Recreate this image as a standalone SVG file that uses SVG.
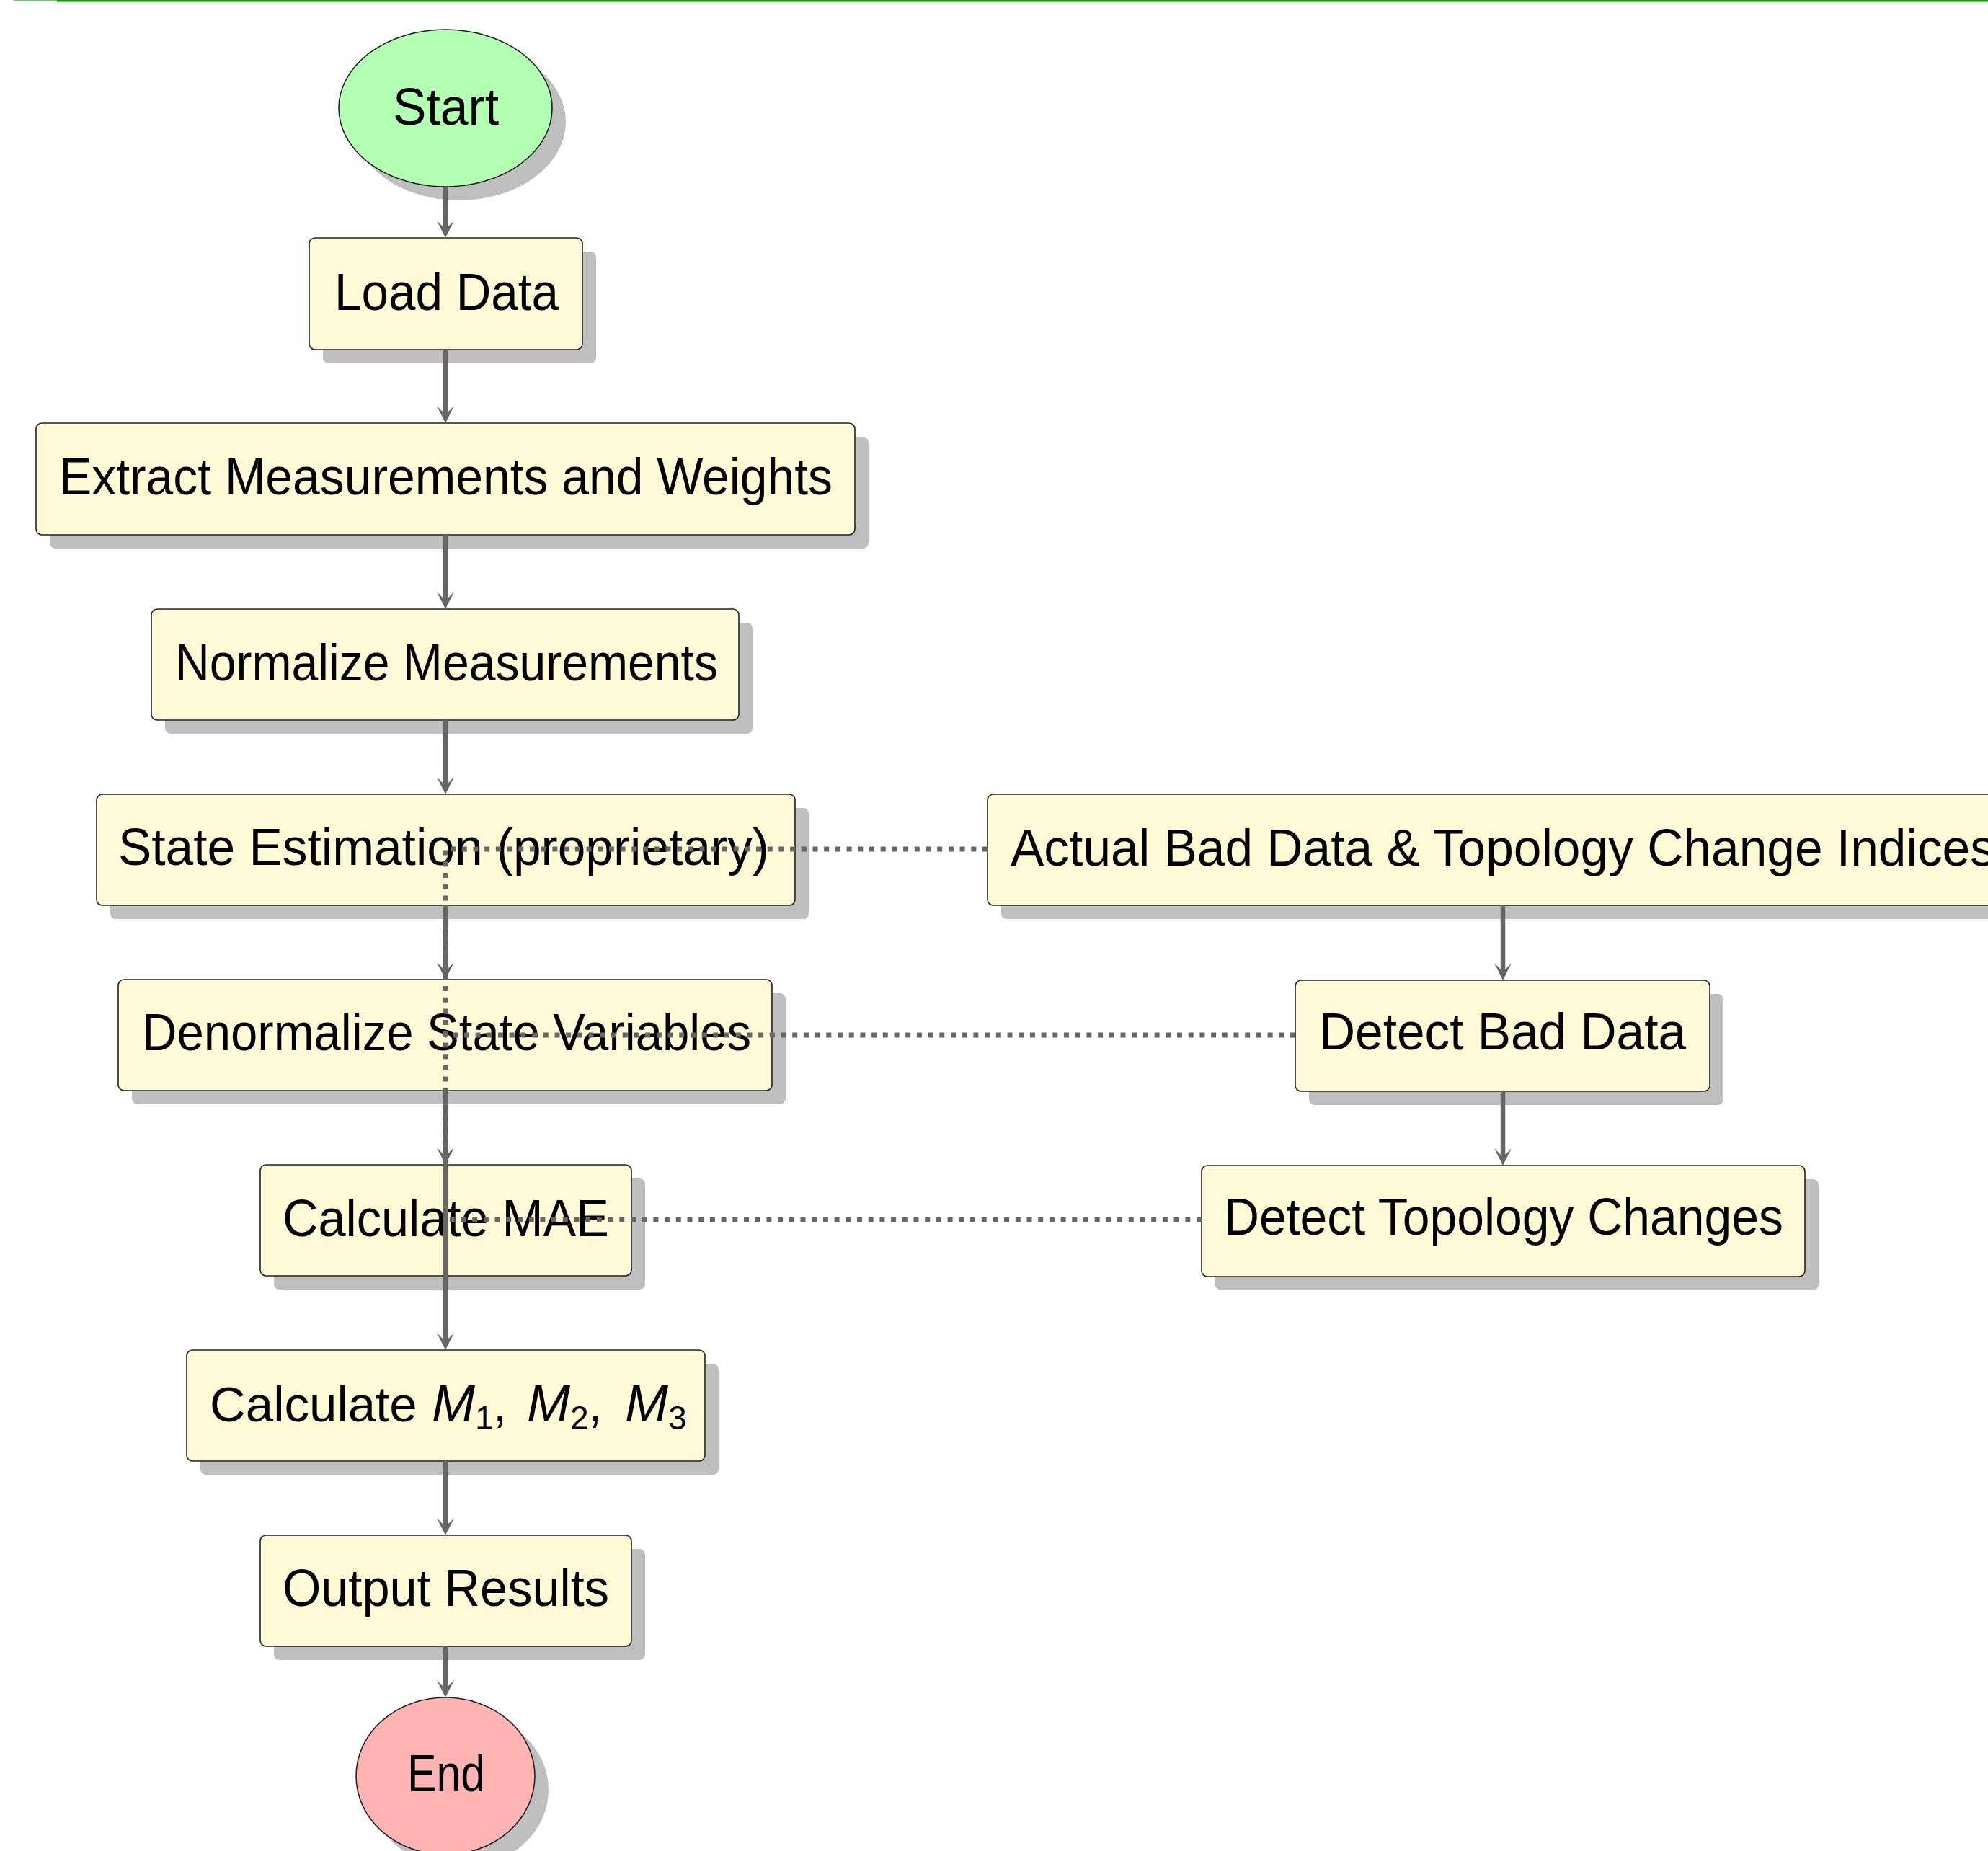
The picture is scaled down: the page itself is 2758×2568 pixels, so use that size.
<svg xmlns="http://www.w3.org/2000/svg" width="2758" height="2568" viewBox="0 0 2758 2568">
<style>
  .box{fill:#FEF9D7;stroke:#222;stroke-width:1.6}
  .shadow{fill:#BFBFBF}
  .start{fill:#B3FFB3;stroke:#222;stroke-width:1.6}
  .end{fill:#FFB3B3;stroke:#222;stroke-width:1.6}
  .lbl{font-family:"Liberation Sans",Arial,sans-serif;font-size:72px;fill:#000}
  .arrow{stroke:#666;stroke-width:6.5;fill:none;marker-end:url(#ah)}
  .plain{stroke:#666;stroke-width:6.5;fill:none}
  .dot{stroke:#666;stroke-width:7;fill:none;stroke-dasharray:7 8.7}
</style>
<defs>
  <marker id="ah" markerUnits="userSpaceOnUse" markerWidth="26" markerHeight="26" refX="12" refY="12" orient="auto" overflow="visible">
    <path d="M24,12 L0,0 L12,12 L0,24 Z" fill="#666"/>
  </marker>
</defs>
<rect width="2758" height="2568" fill="#fff"/>
<rect x="19" y="0" width="60" height="1.3" fill="#66CC66"/>
<rect x="79" y="0" width="2679" height="2.6" fill="#0C9A0C"/>

<g id="start">
  <ellipse class="shadow" cx="637" cy="169" rx="148" ry="109"/>
  <ellipse class="start" cx="618" cy="150" rx="148" ry="109"/>
  <text class="lbl" x="545" y="173" textLength="147" lengthAdjust="spacingAndGlyphs">Start</text>
</g>
<g id="load">
  <rect class="shadow" x="448" y="349" width="379" height="155" rx="8"/>
  <rect class="box" x="429" y="330" width="379" height="155" rx="8"/>
  <text class="lbl" x="464" y="429.5" textLength="311" lengthAdjust="spacingAndGlyphs">Load Data</text>
</g>
<g id="extract">
  <rect class="shadow" x="69" y="606" width="1136" height="155" rx="8"/>
  <rect class="box" x="50" y="587" width="1136" height="155" rx="8"/>
  <text class="lbl" x="82" y="686" textLength="1073" lengthAdjust="spacingAndGlyphs">Extract Measurements and Weights</text>
</g>
<g id="normalize">
  <rect class="shadow" x="229" y="864" width="815" height="154" rx="8"/>
  <rect class="box" x="210" y="845" width="815" height="154" rx="8"/>
  <text class="lbl" x="243" y="943.5" textLength="753" lengthAdjust="spacingAndGlyphs">Normalize Measurements</text>
</g>
<g id="state">
  <rect class="shadow" x="153" y="1121" width="969" height="154" rx="8"/>
  <rect class="box" x="134" y="1102" width="969" height="154" rx="8"/>
  <text class="lbl" x="164" y="1200" textLength="903" lengthAdjust="spacingAndGlyphs">State Estimation (proprietary)</text>
</g>
<g id="denormalize">
  <rect class="shadow" x="183" y="1378" width="907" height="154" rx="8"/>
  <rect class="box" x="164" y="1359" width="907" height="154" rx="8"/>
  <text class="lbl" x="197" y="1457" textLength="845" lengthAdjust="spacingAndGlyphs">Denormalize State Variables</text>
</g>
<g id="mae">
  <rect class="shadow" x="380" y="1635" width="515" height="154" rx="8"/>
  <rect class="box" x="361" y="1616" width="515" height="154" rx="8"/>
  <text class="lbl" x="392" y="1714.5" textLength="453" lengthAdjust="spacingAndGlyphs">Calculate MAE</text>
</g>
<g id="calcm">
  <rect class="shadow" x="278" y="1892" width="719" height="154" rx="8"/>
  <rect class="box" x="259" y="1873" width="719" height="154" rx="8"/>
  <text class="lbl" x="291" y="1972" style="font-size:69px">Calculate <tspan x="599" font-style="italic" font-size="72">M</tspan><tspan x="659" y="1983" font-size="46">1</tspan><tspan x="684" y="1972">, </tspan><tspan x="731" font-style="italic" font-size="72">M</tspan><tspan x="791" y="1983" font-size="46">2</tspan><tspan x="816" y="1972">, </tspan><tspan x="867" font-style="italic" font-size="72">M</tspan><tspan x="927" y="1983" font-size="46">3</tspan></text>
</g>
<g id="output">
  <rect class="shadow" x="380" y="2149" width="515" height="154" rx="8"/>
  <rect class="box" x="361" y="2130" width="515" height="154" rx="8"/>
  <text class="lbl" x="392" y="2228" textLength="453" lengthAdjust="spacingAndGlyphs">Output Results</text>
</g>
<g id="end">
  <ellipse class="shadow" cx="637" cy="2483" rx="124" ry="109"/>
  <ellipse class="end" cx="618" cy="2464" rx="124" ry="109"/>
  <text class="lbl" x="565" y="2485" textLength="108" lengthAdjust="spacingAndGlyphs">End</text>
</g>
<g id="actual">
  <rect class="shadow" x="1389" y="1121" width="1430" height="154" rx="8"/>
  <rect class="box" x="1370" y="1102" width="1430" height="154" rx="8"/>
  <text class="lbl" x="1402" y="1201" textLength="1366" lengthAdjust="spacingAndGlyphs">Actual Bad Data &amp; Topology Change Indices</text>
</g>
<g id="detectbad">
  <rect class="shadow" x="1816" y="1379" width="575" height="154" rx="8"/>
  <rect class="box" x="1797" y="1360" width="575" height="154" rx="8"/>
  <text class="lbl" x="1830" y="1456" textLength="509" lengthAdjust="spacingAndGlyphs">Detect Bad Data</text>
</g>
<g id="detecttopo">
  <rect class="shadow" x="1686" y="1636" width="837" height="154" rx="8"/>
  <rect class="box" x="1667" y="1617" width="837" height="154" rx="8"/>
  <text class="lbl" x="1698" y="1713" textLength="776" lengthAdjust="spacingAndGlyphs">Detect Topology Changes</text>
</g>

<g id="connectors">
  <line class="arrow" x1="618" y1="259" x2="618" y2="318"/>
  <line class="arrow" x1="618" y1="485" x2="618" y2="575"/>
  <line class="arrow" x1="618" y1="742" x2="618" y2="833"/>
  <line class="arrow" x1="618" y1="999" x2="618" y2="1090"/>
  <line class="arrow" x1="618" y1="1256" x2="618" y2="1347"/>
  <line class="arrow" x1="618" y1="1513" x2="618" y2="1604"/>
  <line class="plain" x1="618" y1="1604" x2="618" y2="1770"/>
  <line class="arrow" x1="618" y1="1770" x2="618" y2="1861"/>
  <line class="arrow" x1="618" y1="2027" x2="618" y2="2118"/>
  <line class="arrow" x1="618" y1="2284" x2="618" y2="2343"/>
  <line class="arrow" x1="2085" y1="1256" x2="2085" y2="1348"/>
  <line class="arrow" x1="2085" y1="1514" x2="2085" y2="1605"/>
  <path class="dot" d="M1370,1178 L618,1178 L618,1616"/>
  <path class="dot" d="M1797,1436 L618,1436"/>
  <path class="dot" d="M1667,1692 L618,1692"/>
</g>
</svg>
